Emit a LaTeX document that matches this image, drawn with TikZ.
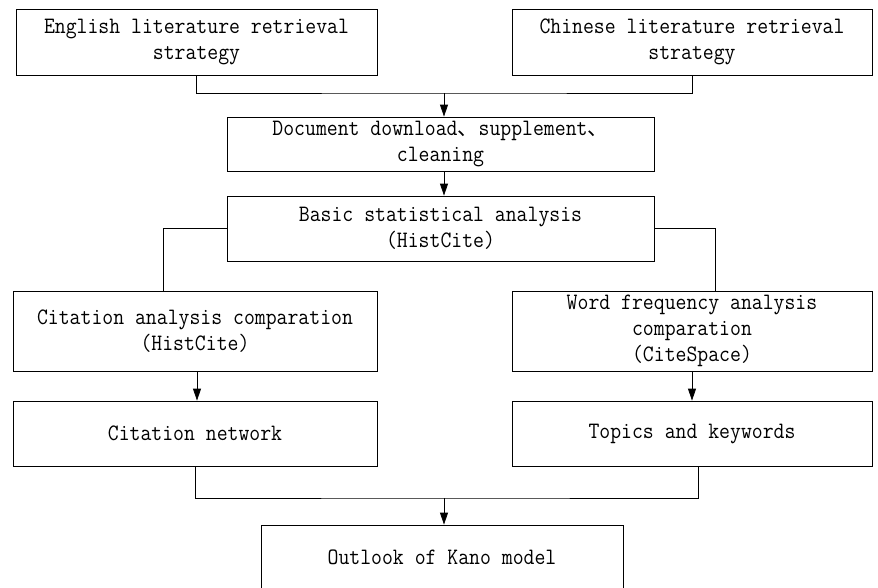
\documentclass[tikz,border=0pt]{standalone}
\usepackage{fontspec}
\newfontfamily\cjk{Noto Sans CJK SC}
\newfontfamily\boxfont{Latin Modern Mono}[FakeStretch=0.9]
\usetikzlibrary{arrows.meta}
\begin{document}
\begin{tikzpicture}[x=1pt,y=-1pt,
  box/.style={draw, line width=0.8pt, inner sep=0pt, align=center, font=\boxfont\fontsize{23.5}{26}\selectfont},
  link/.style={line width=0.8pt},
  arr/.style={line width=0.8pt, -{Triangle[length=12pt,width=8pt]}}]
\useasboundingbox (0,0) rectangle (878,587);
\node[box, minimum width=361pt, minimum height=66pt] (b1) at (196.5,42) {English literature retrieval\\strategy};
\node[box, minimum width=360pt, minimum height=66pt] (b2) at (692,42) {Chinese literature retrieval\\strategy};
\node[box, minimum width=427pt, minimum height=54pt] (b3) at (440.5,144) {Document download{\cjk\fontsize{21}{26}\selectfont 、}supplement{\cjk\fontsize{21}{26}\selectfont 、}\\cleaning};
\node[box, minimum width=427pt, minimum height=65pt] (b4) at (440.5,228.5) {Basic statistical analysis\\(HistCite)};
\node[box, minimum width=364pt, minimum height=80pt] (b5) at (195,331) {Citation analysis comparation\\(HistCite)};
\node[box, minimum width=360pt, minimum height=80pt] (b6) at (692,331) {Word frequency analysis\\comparation\\(CiteSpace)};
\node[box, minimum width=364pt, minimum height=65pt] (b7) at (195,433.5) {Citation network};
\node[box, minimum width=360pt, minimum height=65pt] (b8) at (692,433.5) {Topics and keywords};
\node[box, minimum width=362pt, minimum height=65pt] (b9) at (442,557.5) {Outlook of Kano model};
% top merge
\coordinate (j1) at (444,93);
\draw[link] (b1.south) |- (j1) -| (b2.south);
\draw[arr] (j1) -- (j1 |- b3.north);
\draw[arr] (b3.south -| j1) -- (b4.north -| j1);
% split
\draw[link] (b4.west) -| ([xshift=-32pt]b5.north);
\draw[link] (b4.east) -| ([xshift=23pt]b6.north);
\draw[arr] ([xshift=2pt]b5.south) -- ([xshift=2pt]b7.north);
\draw[arr] (b6.south) -- (b8.north);
% bottom merge
\coordinate (j2) at (444,498);
\draw[link] (b7.south) |- (j2) -| ([xshift=6pt]b8.south);
\draw[arr] (j2) -- (j2 |- b9.north);
\end{tikzpicture}
\end{document}
